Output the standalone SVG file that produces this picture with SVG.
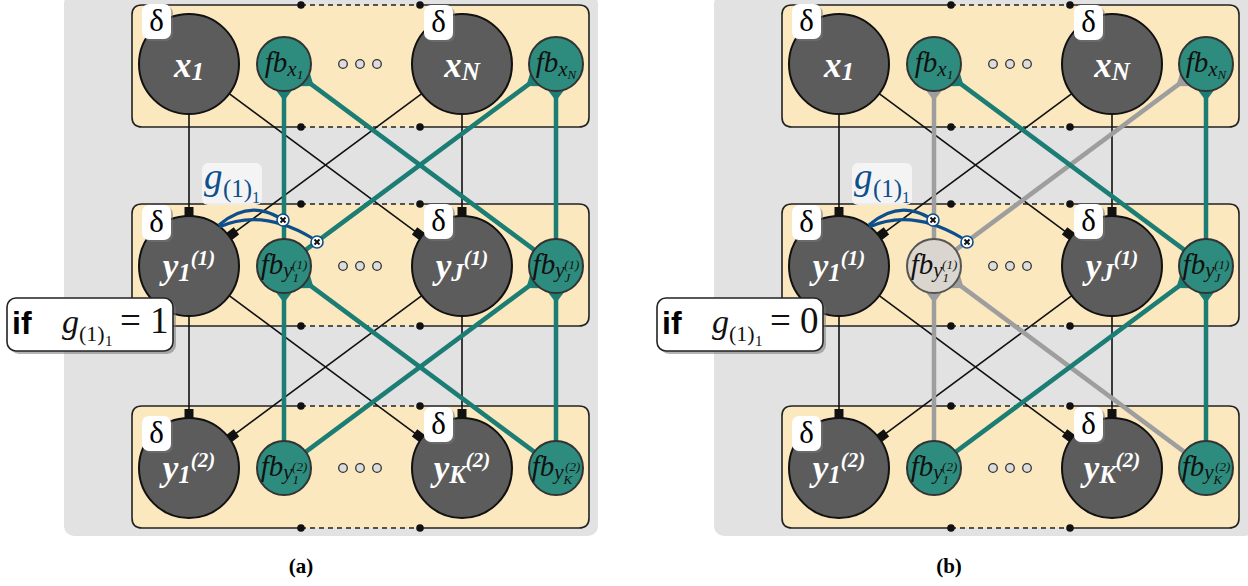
<svg xmlns="http://www.w3.org/2000/svg" width="1248" height="586" viewBox="0 0 1248 586">
<style>
.panel{fill:#E2E2E2}
.row{fill:#FBE8BF}
.edge{fill:none;stroke:#222;stroke-width:1.6}
.dash{fill:none;stroke:#222;stroke-width:1.6;stroke-dasharray:5 4}
.dot{fill:#111}
.ell{fill:#DDDDDD;stroke:#333;stroke-width:1.3}
.big{fill:#5C5C5C;stroke:#111;stroke-width:2}
.fb{fill:#2E8C7E;stroke:#333;stroke-width:2}
.fboff{fill:#DAD6CF;stroke:#555;stroke-width:2}
.bl{fill:none;stroke:#111;stroke-width:1.6;marker-end:url(#sq)}
.tl{fill:none;stroke:#1B7D74;stroke-width:4.5;marker-end:url(#ta)}
.gl{fill:none;stroke:#9E9E9E;stroke-width:4.5;marker-end:url(#ga)}
.blue{fill:none;stroke:#0D4E8C;stroke-width:3.2}
.gate{fill:#fff;stroke:#0D4E8C;stroke-width:1.6}
.gx{stroke:#111;stroke-width:2}
.bsh{fill:#777;opacity:.55}
.bdg{fill:#fff}
.dl{font-family:'Liberation Serif',serif;font-size:31px;fill:#000;text-anchor:middle}
.bt{font-family:'Liberation Serif',serif;font-style:italic;font-weight:bold;font-size:35px;fill:#fff;text-anchor:middle}
.bs{font-size:25px}
.bp{font-size:21px}
.ft{font-family:'Liberation Serif',serif;font-style:italic;font-size:29px;fill:#111;text-anchor:middle}
.fs{font-size:21px}
.fss{font-size:13px}
.math{font-family:'Liberation Serif',serif;font-style:italic;fill:#111}
.rm{font-style:normal}
.ifk{font-family:'Liberation Sans',sans-serif;font-weight:bold;font-size:32px;fill:#000}
.cap{font-family:'Liberation Serif',serif;font-weight:bold;font-size:21px;fill:#000;text-anchor:middle}
</style>
<defs>
<marker id="sq" markerUnits="userSpaceOnUse" viewBox="-10 -5 10 10" refX="0" refY="0" markerWidth="10" markerHeight="10" orient="auto"><path d="M-9,-4.5H0V4.5H-9Z" fill="#111"/></marker>
<marker id="ta" markerUnits="userSpaceOnUse" viewBox="-12 -10 16 20" refX="0" refY="0" markerWidth="16" markerHeight="20" orient="auto"><path d="M2,-9L2,9L-10,0Z" fill="#1B7D74"/></marker>
<marker id="ga" markerUnits="userSpaceOnUse" viewBox="-12 -10 16 20" refX="0" refY="0" markerWidth="16" markerHeight="20" orient="auto"><path d="M2,-9L2,9L-10,0Z" fill="#9E9E9E"/></marker>
</defs>

<!-- ================= PANEL A ================= -->
<g id="panel-a">
<rect class="panel" x="64" y="-6" width="534" height="542" rx="10"/>
<g id="a-row1">
<rect class="row" x="132" y="5" width="457" height="122" rx="10"/>
<path class="edge" d="M301,5H142Q132,5 132,15V117Q132,127 142,127H301M420,5H579Q589,5 589,15V117Q589,127 579,127H420"/>
<path class="dash" d="M301,5H420M301,127H420"/>
<circle class="dot" cx="301" cy="5" r="3.8"/><circle class="dot" cx="420" cy="5" r="3.8"/><circle class="dot" cx="301" cy="127" r="3.8"/><circle class="dot" cx="420" cy="127" r="3.8"/>
<circle class="ell" cx="343" cy="64" r="4.3"/><circle class="ell" cx="360" cy="64" r="4.3"/><circle class="ell" cx="377" cy="64" r="4.3"/>
</g>
<g id="a-row2">
<rect class="row" x="132" y="204" width="457" height="122" rx="10"/>
<path class="edge" d="M301,204H142Q132,204 132,214V316Q132,326 142,326H301M420,204H579Q589,204 589,214V316Q589,326 579,326H420"/>
<path class="dash" d="M301,204H420M301,326H420"/>
<circle class="dot" cx="301" cy="204" r="3.8"/><circle class="dot" cx="420" cy="204" r="3.8"/><circle class="dot" cx="301" cy="326" r="3.8"/><circle class="dot" cx="420" cy="326" r="3.8"/>
<circle class="ell" cx="343" cy="266" r="4.3"/><circle class="ell" cx="360" cy="266" r="4.3"/><circle class="ell" cx="377" cy="266" r="4.3"/>
</g>
<g id="a-row3">
<rect class="row" x="132" y="406" width="457" height="122" rx="10"/>
<path class="edge" d="M301,406H142Q132,406 132,416V518Q132,528 142,528H301M420,406H579Q589,406 589,416V518Q589,528 579,528H420"/>
<path class="dash" d="M301,406H420M301,528H420"/>
<circle class="dot" cx="301" cy="406" r="3.8"/><circle class="dot" cx="420" cy="406" r="3.8"/><circle class="dot" cx="301" cy="528" r="3.8"/><circle class="dot" cx="420" cy="528" r="3.8"/>
<circle class="ell" cx="343" cy="468" r="4.3"/><circle class="ell" cx="360" cy="468" r="4.3"/><circle class="ell" cx="377" cy="468" r="4.3"/>
</g>
<g id="a-connectors">
<path class="bl" d="M189,114L189,216"/>
<path class="bl" d="M462,114L462,216"/>
<path class="bl" d="M229.2,93.7L421.8,236.3"/>
<path class="bl" d="M421.8,93.7L229.2,236.3"/>
<path class="bl" d="M189,316L189,418"/>
<path class="bl" d="M462,316L462,418"/>
<path class="bl" d="M229.2,295.7L421.8,438.3"/>
<path class="bl" d="M421.8,295.7L229.2,438.3"/>
<path class="tl" d="M284,239L284,91"/>
<path class="tl" d="M556,239L556,91"/>
<path class="tl" d="M534.3,249.9L305.7,80.1"/>
<path class="tl" d="M305.7,249.9L534.3,80.1"/>
<path class="tl" d="M284,441L284,293"/>
<path class="tl" d="M556,441L556,293"/>
<path class="tl" d="M534.3,451.9L305.7,282.1"/>
<path class="tl" d="M305.7,451.9L534.3,282.1"/>
</g>
<g id="a-x1"><circle class="big" cx="189" cy="64" r="50"/><rect class="bsh" x="144" y="6" width="29" height="35" rx="7"/><rect class="bdg" x="142" y="4" width="29" height="35" rx="7"/><text class="dl" x="156.5" y="31">δ</text><text class="bt" x="189" y="77">x<tspan class="bs" dy="3">1</tspan></text></g>
<g id="a-xN"><circle class="big" cx="462" cy="64" r="50"/><rect class="bsh" x="426" y="7" width="29" height="35" rx="7"/><rect class="bdg" x="424" y="5" width="29" height="35" rx="7"/><text class="dl" x="438.5" y="32">δ</text><text class="bt" x="462" y="77">x<tspan class="bs" dy="3">N</tspan></text></g>
<g id="a-fbx1"><circle class="fb" cx="284" cy="64" r="27"/><text class="ft" x="284" y="72">fb<tspan class="fs" dy="4">x</tspan><tspan class="fss" dy="3">1</tspan></text></g>
<g id="a-fbxN"><circle class="fb" cx="556" cy="64" r="27"/><text class="ft" x="556" y="72">fb<tspan class="fs" dy="4">x</tspan><tspan class="fss" dy="3">N</tspan></text></g>
<g id="a-y1-1"><circle class="big" cx="189" cy="266" r="50"/><rect class="bsh" x="144" y="207" width="29" height="35" rx="7"/><rect class="bdg" x="142" y="205" width="29" height="35" rx="7"/><text class="dl" x="156.5" y="232">δ</text><text class="bt" x="189" y="278">y<tspan class="bs" dy="3">1</tspan><tspan class="bp" dy="-16">(1)</tspan></text></g>
<g id="a-yJ-1"><circle class="big" cx="462" cy="266" r="50"/><rect class="bsh" x="426" y="206" width="29" height="35" rx="7"/><rect class="bdg" x="424" y="204" width="29" height="35" rx="7"/><text class="dl" x="438.5" y="231">δ</text><text class="bt" x="462" y="278">y<tspan class="bs" dy="3">J</tspan><tspan class="bp" dy="-16">(1)</tspan></text></g>
<g id="a-fby1-1"><circle class="fb" cx="284" cy="266" r="27"/><text class="ft" x="284" y="274">fb<tspan class="fs" dy="3">y</tspan><tspan class="fss" dy="5">1</tspan><tspan class="fss" dx="-7" dy="-13">(1)</tspan></text></g>
<g id="a-fbyJ-1"><circle class="fb" cx="556" cy="266" r="27"/><text class="ft" x="556" y="274">fb<tspan class="fs" dy="3">y</tspan><tspan class="fss" dy="5">J</tspan><tspan class="fss" dx="-6" dy="-13">(1)</tspan></text></g>
<g id="a-y1-2"><circle class="big" cx="189" cy="468" r="50"/><rect class="bsh" x="144" y="418" width="29" height="35" rx="7"/><rect class="bdg" x="142" y="416" width="29" height="35" rx="7"/><text class="dl" x="156.5" y="443">δ</text><text class="bt" x="189" y="480">y<tspan class="bs" dy="3">1</tspan><tspan class="bp" dy="-16">(2)</tspan></text></g>
<g id="a-yK-2"><circle class="big" cx="462" cy="468" r="50"/><rect class="bsh" x="426" y="409" width="29" height="35" rx="7"/><rect class="bdg" x="424" y="407" width="29" height="35" rx="7"/><text class="dl" x="438.5" y="434">δ</text><text class="bt" x="462" y="480">y<tspan class="bs" dy="3">K</tspan><tspan class="bp" dy="-16">(2)</tspan></text></g>
<g id="a-fby1-2"><circle class="fb" cx="284" cy="468" r="27"/><text class="ft" x="284" y="476">fb<tspan class="fs" dy="3">y</tspan><tspan class="fss" dy="5">1</tspan><tspan class="fss" dx="-7" dy="-13">(2)</tspan></text></g>
<g id="a-fbyK-2"><circle class="fb" cx="556" cy="468" r="27"/><text class="ft" x="556" y="476">fb<tspan class="fs" dy="3">y</tspan><tspan class="fss" dy="5">K</tspan><tspan class="fss" dx="-7" dy="-13">(2)</tspan></text></g>
<g id="a-gating">
<path class="blue" d="M219,225Q248,200 278,217"/>
<path class="blue" d="M219,227Q262,208 312,238"/>
<circle class="gate" cx="283" cy="220" r="6"/><path class="gx" d="M280.5,217.5L285.5,222.5M285.5,217.5L280.5,222.5"/>
<circle class="gate" cx="317" cy="242" r="6"/><path class="gx" d="M314.5,239.5L319.5,244.5M319.5,239.5L314.5,244.5"/>
</g>
<g id="a-glabel"><rect x="202" y="163" width="60" height="42" rx="6" fill="#F4F4F4" opacity="0.95"/><text class="math" style="fill:#0D4E8C"><tspan x="204" y="189" font-size="37">g</tspan><tspan class="rm" x="223" y="197" font-size="25">(1)</tspan><tspan class="rm" x="252" y="203" font-size="16">1</tspan></text></g>
<g id="a-if"><rect x="10" y="301" width="166" height="53" rx="9" fill="#777" opacity="0.55"/><rect x="7" y="298" width="166" height="53" rx="9" fill="#fff" stroke="#222" stroke-width="1.6"/><text class="ifk" x="12" y="334">if</text><text class="math"><tspan x="62" y="333" font-size="34">g</tspan><tspan class="rm" x="79" y="341" font-size="22">(1)</tspan><tspan class="rm" x="105" y="346" font-size="15">1</tspan><tspan class="rm" x="120" y="333" font-size="37">= 1</tspan></text></g>
</g>
<text class="cap" x="301" y="573">(a)</text>

<!-- ================= PANEL B ================= -->
<g id="panel-b" transform="translate(650,0)">
<rect class="panel" x="64" y="-6" width="540" height="542" rx="10"/>
<g id="b-row1">
<rect class="row" x="132" y="5" width="457" height="122" rx="10"/>
<path class="edge" d="M301,5H142Q132,5 132,15V117Q132,127 142,127H301M420,5H579Q589,5 589,15V117Q589,127 579,127H420"/>
<path class="dash" d="M301,5H420M301,127H420"/>
<circle class="dot" cx="301" cy="5" r="3.8"/><circle class="dot" cx="420" cy="5" r="3.8"/><circle class="dot" cx="301" cy="127" r="3.8"/><circle class="dot" cx="420" cy="127" r="3.8"/>
<circle class="ell" cx="343" cy="64" r="4.3"/><circle class="ell" cx="360" cy="64" r="4.3"/><circle class="ell" cx="377" cy="64" r="4.3"/>
</g>
<g id="b-row2">
<rect class="row" x="132" y="204" width="457" height="122" rx="10"/>
<path class="edge" d="M301,204H142Q132,204 132,214V316Q132,326 142,326H301M420,204H579Q589,204 589,214V316Q589,326 579,326H420"/>
<path class="dash" d="M301,204H420M301,326H420"/>
<circle class="dot" cx="301" cy="204" r="3.8"/><circle class="dot" cx="420" cy="204" r="3.8"/><circle class="dot" cx="301" cy="326" r="3.8"/><circle class="dot" cx="420" cy="326" r="3.8"/>
<circle class="ell" cx="343" cy="266" r="4.3"/><circle class="ell" cx="360" cy="266" r="4.3"/><circle class="ell" cx="377" cy="266" r="4.3"/>
</g>
<g id="b-row3">
<rect class="row" x="132" y="406" width="457" height="122" rx="10"/>
<path class="edge" d="M301,406H142Q132,406 132,416V518Q132,528 142,528H301M420,406H579Q589,406 589,416V518Q589,528 579,528H420"/>
<path class="dash" d="M301,406H420M301,528H420"/>
<circle class="dot" cx="301" cy="406" r="3.8"/><circle class="dot" cx="420" cy="406" r="3.8"/><circle class="dot" cx="301" cy="528" r="3.8"/><circle class="dot" cx="420" cy="528" r="3.8"/>
<circle class="ell" cx="343" cy="468" r="4.3"/><circle class="ell" cx="360" cy="468" r="4.3"/><circle class="ell" cx="377" cy="468" r="4.3"/>
</g>
<g id="b-connectors">
<path class="bl" d="M189,114L189,216"/>
<path class="bl" d="M462,114L462,216"/>
<path class="bl" d="M229.2,93.7L421.8,236.3"/>
<path class="bl" d="M421.8,93.7L229.2,236.3"/>
<path class="bl" d="M189,316L189,418"/>
<path class="bl" d="M462,316L462,418"/>
<path class="bl" d="M229.2,295.7L421.8,438.3"/>
<path class="bl" d="M421.8,295.7L229.2,438.3"/>
<path class="gl" d="M284,239L284,91"/>
<path class="gl" d="M305.7,249.9L534.3,80.1"/>
<path class="gl" d="M284,441L284,293"/>
<path class="gl" d="M534.3,451.9L305.7,282.1"/>
<path class="tl" d="M556,239L556,91"/>
<path class="tl" d="M534.3,249.9L305.7,80.1"/>
<path class="tl" d="M556,441L556,293"/>
<path class="tl" d="M305.7,451.9L534.3,282.1"/>
</g>
<g id="b-x1"><circle class="big" cx="189" cy="64" r="50"/><rect class="bsh" x="144" y="6" width="29" height="35" rx="7"/><rect class="bdg" x="142" y="4" width="29" height="35" rx="7"/><text class="dl" x="156.5" y="31">δ</text><text class="bt" x="189" y="77">x<tspan class="bs" dy="3">1</tspan></text></g>
<g id="b-xN"><circle class="big" cx="462" cy="64" r="50"/><rect class="bsh" x="426" y="7" width="29" height="35" rx="7"/><rect class="bdg" x="424" y="5" width="29" height="35" rx="7"/><text class="dl" x="438.5" y="32">δ</text><text class="bt" x="462" y="77">x<tspan class="bs" dy="3">N</tspan></text></g>
<g id="b-fbx1"><circle class="fb" cx="284" cy="64" r="27"/><text class="ft" x="284" y="72">fb<tspan class="fs" dy="4">x</tspan><tspan class="fss" dy="3">1</tspan></text></g>
<g id="b-fbxN"><circle class="fb" cx="556" cy="64" r="27"/><text class="ft" x="556" y="72">fb<tspan class="fs" dy="4">x</tspan><tspan class="fss" dy="3">N</tspan></text></g>
<g id="b-y1-1"><circle class="big" cx="189" cy="266" r="50"/><rect class="bsh" x="144" y="207" width="29" height="35" rx="7"/><rect class="bdg" x="142" y="205" width="29" height="35" rx="7"/><text class="dl" x="156.5" y="232">δ</text><text class="bt" x="189" y="278">y<tspan class="bs" dy="3">1</tspan><tspan class="bp" dy="-16">(1)</tspan></text></g>
<g id="b-yJ-1"><circle class="big" cx="462" cy="266" r="50"/><rect class="bsh" x="426" y="206" width="29" height="35" rx="7"/><rect class="bdg" x="424" y="204" width="29" height="35" rx="7"/><text class="dl" x="438.5" y="231">δ</text><text class="bt" x="462" y="278">y<tspan class="bs" dy="3">J</tspan><tspan class="bp" dy="-16">(1)</tspan></text></g>
<g id="b-fby1-1"><circle class="fboff" cx="284" cy="266" r="27"/><text class="ft" x="284" y="274">fb<tspan class="fs" dy="3">y</tspan><tspan class="fss" dy="5">1</tspan><tspan class="fss" dx="-7" dy="-13">(1)</tspan></text></g>
<g id="b-fbyJ-1"><circle class="fb" cx="556" cy="266" r="27"/><text class="ft" x="556" y="274">fb<tspan class="fs" dy="3">y</tspan><tspan class="fss" dy="5">J</tspan><tspan class="fss" dx="-6" dy="-13">(1)</tspan></text></g>
<g id="b-y1-2"><circle class="big" cx="189" cy="468" r="50"/><rect class="bsh" x="144" y="418" width="29" height="35" rx="7"/><rect class="bdg" x="142" y="416" width="29" height="35" rx="7"/><text class="dl" x="156.5" y="443">δ</text><text class="bt" x="189" y="480">y<tspan class="bs" dy="3">1</tspan><tspan class="bp" dy="-16">(2)</tspan></text></g>
<g id="b-yK-2"><circle class="big" cx="462" cy="468" r="50"/><rect class="bsh" x="426" y="409" width="29" height="35" rx="7"/><rect class="bdg" x="424" y="407" width="29" height="35" rx="7"/><text class="dl" x="438.5" y="434">δ</text><text class="bt" x="462" y="480">y<tspan class="bs" dy="3">K</tspan><tspan class="bp" dy="-16">(2)</tspan></text></g>
<g id="b-fby1-2"><circle class="fb" cx="284" cy="468" r="27"/><text class="ft" x="284" y="476">fb<tspan class="fs" dy="3">y</tspan><tspan class="fss" dy="5">1</tspan><tspan class="fss" dx="-7" dy="-13">(2)</tspan></text></g>
<g id="b-fbyK-2"><circle class="fb" cx="556" cy="468" r="27"/><text class="ft" x="556" y="476">fb<tspan class="fs" dy="3">y</tspan><tspan class="fss" dy="5">K</tspan><tspan class="fss" dx="-7" dy="-13">(2)</tspan></text></g>
<g id="b-gating">
<path class="blue" d="M219,225Q248,200 278,217"/>
<path class="blue" d="M219,227Q262,208 312,238"/>
<circle class="gate" cx="283" cy="220" r="6"/><path class="gx" d="M280.5,217.5L285.5,222.5M285.5,217.5L280.5,222.5"/>
<circle class="gate" cx="317" cy="242" r="6"/><path class="gx" d="M314.5,239.5L319.5,244.5M319.5,239.5L314.5,244.5"/>
</g>
<g id="b-glabel"><rect x="202" y="163" width="60" height="42" rx="6" fill="#F4F4F4" opacity="0.95"/><text class="math" style="fill:#0D4E8C"><tspan x="204" y="189" font-size="37">g</tspan><tspan class="rm" x="223" y="197" font-size="25">(1)</tspan><tspan class="rm" x="252" y="203" font-size="16">1</tspan></text></g>
<g id="b-if"><rect x="10" y="301" width="166" height="53" rx="9" fill="#777" opacity="0.55"/><rect x="7" y="298" width="166" height="53" rx="9" fill="#fff" stroke="#222" stroke-width="1.6"/><text class="ifk" x="12" y="334">if</text><text class="math"><tspan x="62" y="333" font-size="34">g</tspan><tspan class="rm" x="79" y="341" font-size="22">(1)</tspan><tspan class="rm" x="105" y="346" font-size="15">1</tspan><tspan class="rm" x="120" y="333" font-size="37">= 0</tspan></text></g>
</g>
<text class="cap" x="949" y="573">(b)</text>
</svg>
